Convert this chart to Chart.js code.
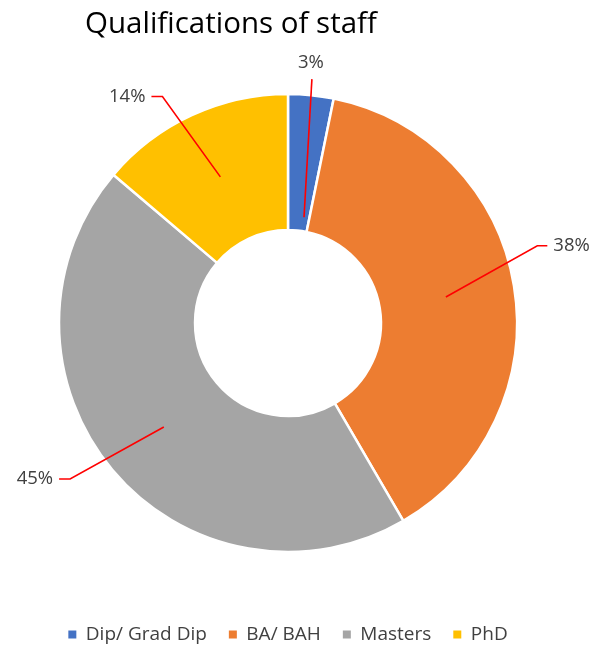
<!DOCTYPE html>
<html>
<head>
<meta charset="utf-8">
<script src="https://cdn.jsdelivr.net/npm/chart.js@4/dist/chart.umd.min.js"></script>
<style>
  html, body { margin: 0; padding: 0; background: #fff; }
  #wrap { position: relative; width: 592px; height: 648px; }
  #title { position: absolute; left: 85px; top: 7px; font: 29.5px "Open Sans"; line-height: 29px; color: #000; white-space: nowrap; }
</style>
</head>
<body>
<div id="wrap">
  <div id="title">Qualifications of staff</div>
  <canvas id="chart" width="592" height="648"></canvas>
</div>
<script>
const categories = ["Dip/ Grad Dip", "BA/ BAH", "Masters", "PhD"];
const shares = [3.2, 38.4, 44.6, 13.8];
const sliceColors = ["#4472C4", "#ED7D31", "#A5A5A5", "#FFC000"];

// leader line + percentage label drawn next to each slice
const leaderLabels = {
  id: "leaderLabels",
  afterDatasetsDraw(chart, args, opts) {
    const meta = chart.getDatasetMeta(0);
    const data = chart.data.datasets[0].data;
    const total = data.reduce((a, b) => a + b, 0);
    const ctx = chart.ctx;
    ctx.save();
    meta.data.forEach((arc, i) => {
      const p = opts.layout[i];
      const { x, y, startAngle, endAngle } = arc.getProps(["x", "y", "startAngle", "endAngle"], true);
      const a0 = p.startDeg != null ? (p.startDeg - 90) * Math.PI / 180 : (startAngle + endAngle) / 2;
      const a1 = (p.elbowDeg - 90) * Math.PI / 180;
      const sx = x + Math.cos(a0) * p.startR, sy = y + Math.sin(a0) * p.startR;
      const ex = x + Math.cos(a1) * p.elbowR, ey = y + Math.sin(a1) * p.elbowR;
      ctx.beginPath();
      ctx.moveTo(sx, sy);
      ctx.lineTo(ex, ey);
      ctx.lineTo(ex + p.tail, ey);
      ctx.strokeStyle = opts.lineColor;
      ctx.lineWidth = opts.lineWidth;
      ctx.stroke();

      ctx.font = opts.font;
      ctx.fillStyle = opts.color;
      ctx.textBaseline = "middle";
      const txt = Math.round(data[i] / total * 100) + "%";
      if (p.tail === 0) {
        ctx.textAlign = "center";
        ctx.fillText(txt, ex + p.dx, ey + p.dy);
      } else if (p.tail > 0) {
        ctx.textAlign = "left";
        ctx.fillText(txt, ex + p.tail + opts.gap, ey);
      } else {
        ctx.textAlign = "right";
        ctx.fillText(txt, ex + p.tail - opts.gap, ey);
      }
    });
    ctx.restore();
  }
};

const ctx = document.getElementById("chart").getContext("2d");
new Chart(ctx, {
  type: "doughnut",
  data: {
    labels: categories,
    datasets: [{
      data: shares,
      backgroundColor: sliceColors,
      borderColor: "#fff",
      borderWidth: 2.5
    }]
  },
  options: {
    responsive: false,
    animation: false,
    radius: 229,
    cutout: "40.6%",
    layout: { padding: { left: 0, right: 16, top: 43, bottom: 0 } },
    plugins: {
      tooltip: { enabled: false },
      legend: {
        position: "bottom",
        maxHeight: 45,
        labels: {
          boxWidth: 8,
          boxHeight: 8,
          padding: 22,
          color: "#404040",
          font: { family: "Open Sans", size: 19 },
          generateLabels(chart) {
            return Chart.overrides.doughnut.plugins.legend.labels.generateLabels(chart)
              .map(l => Object.assign(l, { lineWidth: 0, strokeStyle: l.fillStyle }));
          }
        }
      },
      leaderLabels: {
        lineColor: "#FF0000",
        lineWidth: 1.6,
        font: '18.5px "Open Sans"',
        color: "#404040",
        gap: 6,
        layout: [
          { startR: 107, startDeg: 8.6, elbowDeg: 5.6, elbowR: 245, tail: 0, dx: -1, dy: -16 },
          { startR: 160, elbowDeg: 72.8, elbowR: 261, tail: 10 },
          { startR: 162, elbowDeg: 234.4, elbowR: 268, tail: -11 },
          { startR: 161, elbowDeg: 331, elbowR: 259, tail: -11 }
        ]
      }
    }
  },
  plugins: [leaderLabels]
});
</script>
</body>
</html>
